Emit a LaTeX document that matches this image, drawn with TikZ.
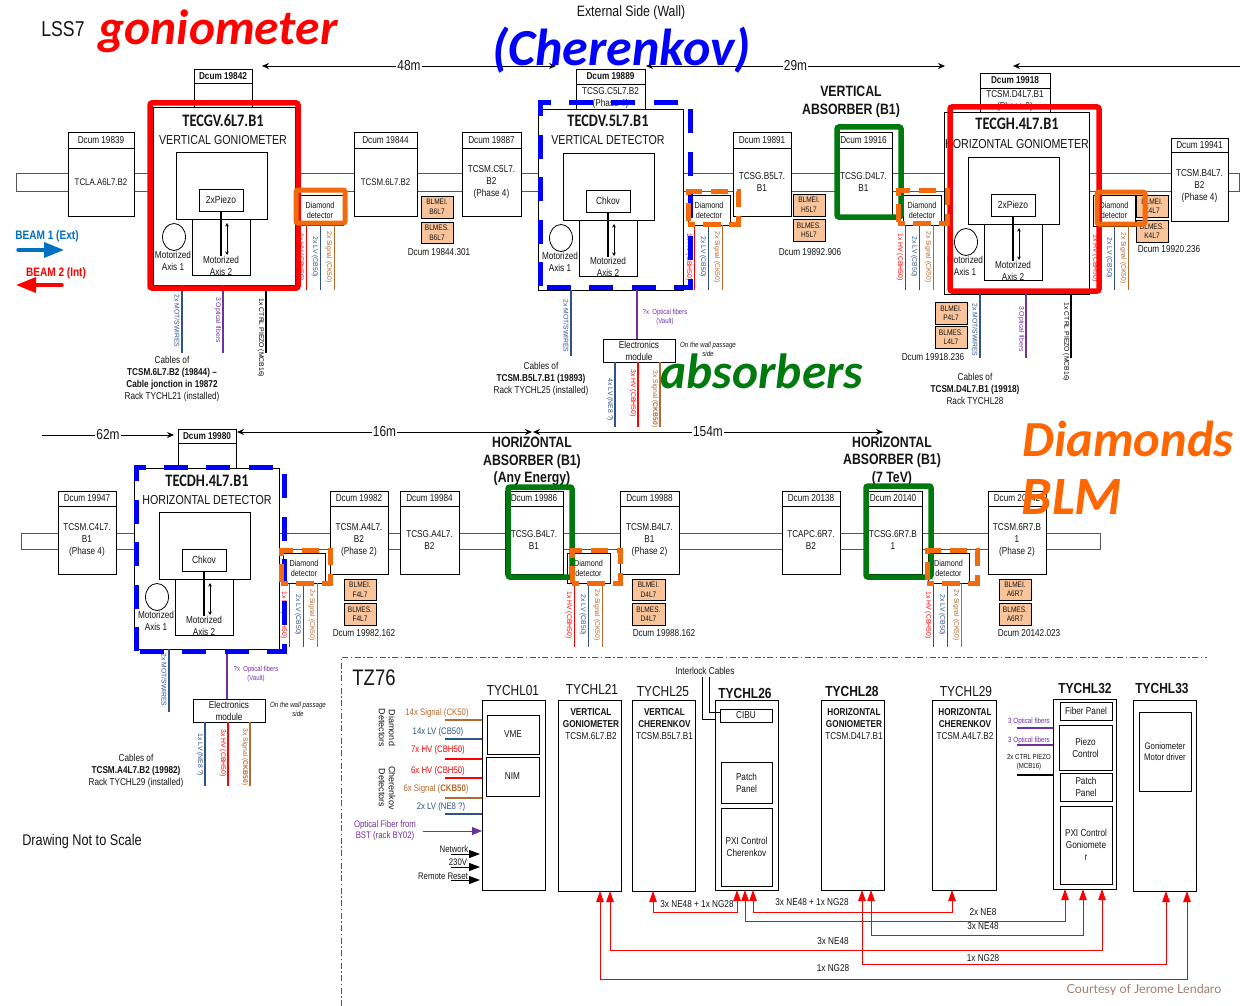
\documentclass[tikz,border=0pt]{standalone}
\usepackage{fontspec}
\usetikzlibrary{arrows.meta,shapes.geometric}
\setmainfont{Liberation Sans}[FakeStretch=0.82]
\newfontfamily\plainf{Liberation Sans}
\newfontfamily\dispf{Carlito}
\newfontfamily\ttlf{Carlito}[FakeStretch=0.82]
\newfontfamily\courtf{Lato}
\newcommand\fz[2]{\fontsize{#1}{#2}\selectfont}
\definecolor{txt}{HTML}{151515}
\definecolor{sigc}{HTML}{B5692C}
\definecolor{lvc}{HTML}{2F5387}
\definecolor{purp}{HTML}{7030A0}
\definecolor{orng}{HTML}{F26A0C}
\definecolor{orngt}{HTML}{FF6600}
\definecolor{grn}{HTML}{007A0E}
\definecolor{blmf}{HTML}{F9C49A}
\definecolor{beamb}{HTML}{0070C0}
\definecolor{framed}{HTML}{555555}
\definecolor{court}{HTML}{A08070}
\tikzset{
  boxn/.style={draw=black,fill=white,line width=0.9pt,inner sep=0pt,outer sep=0pt,align=center,text=txt,font=\fz{10}{12}},
  txtn/.style={inner sep=0pt,outer sep=0pt,align=center,text=txt,font=\fz{10}{12}},
  redframe/.style={draw=red,fill=none,line width=5.5pt,rounded corners=2pt},
  grnframe/.style={draw=grn,fill=none,line width=5.5pt,rounded corners=2pt},
  blueframe/.style={draw=blue,fill=none,line width=5pt,dash pattern=on 24pt off 18.4pt},
  orframe/.style={draw=orng,fill=none,line width=5pt,rounded corners=2pt},
  ordash/.style={draw=orng,fill=none,line width=5pt,dash pattern=on 17.5pt off 8.5pt,dash phase=11pt},
  hvline/.style={draw=red,line width=1pt},
  lvline/.style={draw=lvc,line width=1pt},
  sigline/.style={draw=sigc,line width=1pt},
  purline/.style={draw=purp,line width=1pt},
  blkline/.style={draw=black,line width=1pt},
  rotlab/.style={rotate=-90,inner sep=0pt,outer sep=0pt,font=\plainf\fz{6.8}{8}},
  dimline/.style={draw=black,line width=0.8pt,arrows={Stealth[length=7pt,width=6pt]-Stealth[length=7pt,width=6pt]}},
  redroute/.style={draw=red,line width=0.9pt,arrows={Triangle[length=11pt,width=7.5pt]-Triangle[length=11pt,width=7.5pt]}},
  powline/.style={draw=black,line width=0.9pt,arrows={Triangle[length=11pt,width=8pt]-}},
  beaml/.style={line width=3.5pt,line cap=round,-{Triangle[length=20pt,width=15pt]}},
  boldbig/.style={txtn,font=\bfseries\fz{15}{17.5}},
  disptext/.style={inner sep=0pt,outer sep=0pt,font=\dispf\bfseries\itshape\fz{49.5}{50}}
}
\newcounter{tnc}
% text node
\newcommand\tx[4]{\stepcounter{tnc}\node[txtn,#3] (t\arabic{tnc}) at (#1,#2) {#4};}
% rotated label
\newcommand\rl[4]{\stepcounter{tnc}\node[rotlab,text=#3] (t\arabic{tnc}) at (#1,#2) {#4};}
% corner box: name x1 y1 x2 y2 style text
\newcommand\bx[7]{%
  \pgfmathsetmacro\cxx{(#2+#4)/2}\pgfmathsetmacro\cyy{(#3+#5)/2}%
  \node[boxn,minimum width={#4pt-#2pt},minimum height={#5pt-#3pt},#6] (#1) at (\cxx,\cyy) {#7};}
% collimator: name x1 x2 ytop ymid ybot dcum body
\newcommand\coll[8]{%
  \bx{#1b}{#2}{#5}{#3}{#6}{}{#8}%
  \bx{#1d}{#2}{#4}{#3}{#5}{}{#7}}
% BLM box: name x1 y1 x2 y2 text
\newcommand\blm[6]{\bx{#1}{#2}{#3}{#4}{#5}{fill=blmf,font=\fz{8}{9.5}}{#6}}
% mechanism: prefix X Y chiptext
\newcommand\mech[4]{%
  \bx{#1in}{#2}{#3}{\the\numexpr#2+91\relax}{\the\numexpr#3+67\relax}{}{}%
  \bx{#1lo}{\the\numexpr#2+16\relax}{\the\numexpr#3+67\relax}{\the\numexpr#2+74\relax}{\the\numexpr#3+123\relax}{}{}%
  \bx{#1ch}{\the\numexpr#2+23\relax}{\the\numexpr#3+37\relax}{\the\numexpr#2+67\relax}{\the\numexpr#3+59\relax}{font=\fz{10.3}{12}}{#4}%
  \draw[line width=2pt] (#1ch.south) -- ++(0,45);
  \coordinate (#1a1) at (\the\numexpr#2+51\relax,\the\numexpr#3+71\relax);
  \coordinate (#1a2) at (\the\numexpr#2+51\relax,\the\numexpr#3+103\relax);
  \draw[line width=0.7pt,{Stealth[length=3.5pt,width=3.5pt]}-{Stealth[length=3.5pt,width=3.5pt]}] (#1a1) -- (#1a2);
  \stepcounter{tnc}\node[draw=black,fill=white,line width=0.8pt,ellipse,minimum width=23pt,minimum height=27pt,inner sep=0pt] (#1ci) at (\the\numexpr#2-2\relax,\the\numexpr#3+85\relax) {};
  \tx{\the\numexpr#2-3\relax}{\the\numexpr#3+109\relax}{}{Motorized\\Axis 1}
  \tx{\the\numexpr#2+45\relax}{\the\numexpr#3+114\relax}{}{Motorized\\Axis 2}
}
% diamond: name x1 y1 x2 y2 cablecentre y-end
\newcommand\ddet[7]{%
  \bx{#1}{#2}{#3}{#4}{#5}{font=\fz{8.8}{10}}{Diamond\\detector}%
  \pgfmathsetmacro\offc{#6-(#2+#4)/2}%
  \pgfmathsetmacro\cablen{#7-#5}%
  \draw[hvline]  ([xshift=\offc pt-14pt]#1.south) -- ++(0,\cablen);
  \draw[lvline]  ([xshift=\offc pt]#1.south) -- ++(0,\cablen);
  \draw[sigline] ([xshift=\offc pt+14pt]#1.south) -- ++(0,\cablen);
  \pgfmathsetmacro\ly{#5+32}\pgfmathsetmacro\xa{#6-19}\pgfmathsetmacro\xb{#6-5}\pgfmathsetmacro\xc{#6+9}%
  \rl{\xa}{\ly}{red}{1x HV (CBH50)}\rl{\xb}{\ly}{lvc}{2x LV (CB50)}\rl{\xc}{\ly}{sigc}{2x Signal (CK50)}%
}
\begin{document}
\begin{tikzpicture}[x=1pt,y=-1pt,>=Stealth]
\fill[white] (0,0) rectangle (1240,1006);
\useasboundingbox (0,0) rectangle (1240,1006);

% ---------- top texts
\tx{63}{29}{font=\fz{21.5}{24}}{LSS7}
\tx{631}{13}{font=\fz{15}{17}}{External Side (Wall)}
\tx{82}{841}{font=\fz{15.5}{17}}{Drawing Not to Scale}

% ---------- distance arrows
\coordinate (d48a) at (262,66); \coordinate (d48b) at (556,66);
\coordinate (d29a) at (646,66); \coordinate (d29b) at (945,66);
\coordinate (d00a) at (1013,66); \coordinate (d00b) at (1240,66);
\coordinate (d62a) at (42,435); \coordinate (d62b) at (174,435);
\coordinate (d16a) at (237,432); \coordinate (d16b) at (532,432);
\coordinate (d15a) at (533,432); \coordinate (d15b) at (883,432);
\draw[dimline] (d48a) -- node[midway,fill=white,inner sep=1pt,font=\fz{14.5}{16},text=txt] (l48) {48m} (d48b);
\draw[dimline] (d29a) -- node[midway,fill=white,inner sep=1pt,font=\fz{14.5}{16},text=txt] (l29) {29m} (d29b);
\draw[draw=black,line width=0.8pt,{Stealth[length=7pt,width=6pt]}-] (d00a) -- (d00b);
\draw[draw=black,line width=0.8pt,-{Stealth[length=7pt,width=6pt]}] (d62a) -- node[midway,fill=white,inner sep=1pt,font=\fz{14.5}{16},text=txt] (l62) {62m} (d62b);
\draw[dimline] (d16a) -- node[midway,fill=white,inner sep=1pt,font=\fz{14.5}{16},text=txt] (l16) {16m} (d16b);
\draw[dimline] (d15a) -- node[midway,fill=white,inner sep=1pt,font=\fz{14.5}{16},text=txt] (l154) {154m} (d15b);

% ---------- beam pipes
\coordinate (pa1) at (16,174); \coordinate (pb1) at (1239,191);
\coordinate (pa2) at (21,533); \coordinate (pb2) at (1100,549);
\draw[line width=1pt,draw=framed] (pa1) rectangle (pb1);
\draw[line width=1pt,draw=framed] (pa2) rectangle (pb2);

% ---------- beam arrows
\tx{47}{236}{text=beamb,font=\bfseries\fz{12.3}{14}}{BEAM 1 (Ext)}
\tx{56}{273}{text=red,font=\bfseries\fz{12.3}{14}}{BEAM 2 (Int)}
\coordinate (ba1) at (18,250); \coordinate (ba2) at (64,250);
\coordinate (bb1) at (62,285); \coordinate (bb2) at (16,285);
\draw[beaml,draw=beamb,fill=beamb] (ba1) -- (ba2);
\draw[beaml,draw=red,fill=red] (bb1) -- (bb2);

% ---------- row 1 collimators
\coll{c19839}{68}{134}{132}{148}{216}{Dcum 19839}{\fz{9.6}{12}TCLA.A6L7.B2}
\coll{c19842}{194}{252}{69}{83}{110}{\textbf{Dcum 19842}}{}
\coll{c19844}{354}{417}{132}{148}{216}{Dcum 19844}{\fz{9.6}{12}TCSM.6L7.B2}
\coll{c19887}{462}{521}{132}{148}{216}{Dcum 19887}{TCSM.C5L7.\\B2\\(Phase 4)}
\coll{c19889}{576}{645}{69}{84}{112}{\textbf{Dcum 19889}}{TCSG.C5L7.B2\\(Phase 4)}
\coll{c19891}{733}{791}{132}{148}{216}{Dcum 19891}{TCSG.B5L7.\\B1}
\coll{c19916}{835}{892}{132}{148}{216}{Dcum 19916}{TCSG.D4L7.\\B1}
\coll{c19918}{980}{1050}{73}{88}{114}{\textbf{Dcum 19918}}{TCSM.D4L7.B1\\(Phase 2)}
\coll{c19941}{1171}{1228}{138}{152}{221}{Dcum 19941}{TCSM.B4L7.\\B2\\(Phase 4)}

% ---------- row 2 collimators
\coll{c19947}{58}{116}{491}{506}{574}{Dcum 19947}{TCSM.C4L7.\\B1\\(Phase 4)}
\coll{c19980}{178}{236}{429}{443}{470}{\textbf{Dcum 19980}}{}
\coll{c19982}{330}{388}{491}{506}{574}{Dcum 19982}{TCSM.A4L7.\\B2\\(Phase 2)}
\coll{c19984}{400}{459}{491}{506}{574}{Dcum 19984}{TCSG.A4L7.\\B2}
\coll{c19986}{505}{563}{491}{506}{574}{Dcum 19986}{TCSG.B4L7.\\B1}
\coll{c19988}{620}{679}{491}{506}{574}{Dcum 19988}{TCSM.B4L7.\\B1\\(Phase 2)}
\coll{c20138}{782}{840}{491}{506}{574}{Dcum 20138}{TCAPC.6R7.\\B2}
\coll{c20140}{864}{922}{491}{506}{574}{Dcum 20140}{TCSG.6R7.B\\1}
\coll{c20142}{988}{1046}{491}{506}{574}{Dcum 20142}{TCSM.6R7.B\\1\\(Phase 2)}

% ---------- BLM boxes
\blm{bB6a}{421}{196}{453}{218}{BLMEI.\\B6L7}
\blm{bB6b}{421}{222}{453}{243}{BLMES.\\B6L7}
\tx{439}{252}{}{Dcum 19844.301}
\blm{bH5a}{793}{194}{825}{216}{BLMEI.\\H5L7}
\blm{bH5b}{793}{219}{825}{241}{BLMES.\\H5L7}
\tx{810}{252}{}{Dcum 19892.906}
\blm{bP4a}{935}{302}{967}{324}{BLMEI.\\P4L7}
\blm{bL4b}{935}{326}{967}{348}{BLMES.\\L4L7}
\tx{933}{357}{}{Dcum 19918.236}
\blm{bK4a}{1136}{195}{1168}{217}{BLMEI.\\K4L7}
\blm{bK4b}{1136}{220}{1168}{242}{BLMES.\\K4L7}
\tx{1169}{249}{}{Dcum 19920.236}
\blm{bF4a}{344}{579}{376}{600}{BLMEI.\\F4L7}
\blm{bF4b}{344}{603}{376}{625}{BLMES.\\F4L7}
\tx{364}{633}{}{Dcum 19982.162}
\blm{bD4a}{632}{579}{665}{600}{BLMEI.\\D4L7}
\blm{bD4b}{632}{603}{665}{625}{BLMES.\\D4L7}
\tx{664}{633}{}{Dcum 19988.162}
\blm{bA6a}{999}{579}{1031}{600}{BLMEI.\\A6R7}
\blm{bA6b}{999}{603}{1031}{625}{BLMES.\\A6R7}
\tx{1029}{633}{}{Dcum 20142.023}

% ---------- big tanks
\bx{tGV}{153}{107}{295}{285}{}{}
\bx{tDV}{538}{109}{683}{290}{}{}
\bx{tGH}{944}{112}{1089}{294}{}{}
\bx{tDH}{134}{468}{279}{649}{}{}

\tx{223}{121}{font=\ttlf\bfseries\fz{17.5}{20}}{TECGV.6L7.B1}
\tx{223}{140}{font=\fz{13}{15}}{VERTICAL GONIOMETER}
\tx{608}{121}{font=\ttlf\bfseries\fz{17.5}{20}}{TECDV.5L7.B1}
\tx{608}{140}{font=\fz{13}{15}}{VERTICAL DETECTOR}
\tx{1017}{124}{font=\ttlf\bfseries\fz{17.5}{20}}{TECGH.4L7.B1}
\tx{1017}{144}{font=\fz{13}{15}}{HORIZONTAL GONIOMETER}
\tx{207}{481}{font=\ttlf\bfseries\fz{17.5}{20}}{TECDH.4L7.B1}
\tx{207}{500}{font=\fz{13}{15}}{HORIZONTAL DETECTOR}

\mech{mGV}{176}{152}{2xPiezo}
\mech{mDV}{563}{153}{Chkov}
\mech{mGH}{968}{157}{2xPiezo}
\mech{mDH}{159}{512}{Chkov}

% ---------- diamond detectors and their cables
\ddet{dd1}{297}{195}{343}{225}{320}{290}
\ddet{dd2}{688}{195}{730}{225}{708}{290}
\ddet{dd3}{903}{195}{941}{225}{919}{290}
\ddet{dd4}{1093}{195}{1135}{226}{1114}{290}
\ddet{dd5}{283}{553}{325}{583}{303}{647}
\ddet{dd6}{567}{553}{610}{583}{588}{647}
\ddet{dd7}{928}{553}{969}{583}{947}{647}

% ---------- tank cables, row 1
\draw[lvline,line width=1.2pt]  ([xshift=29pt]tGV.south west) -- ++(0,68);
\draw[purline,line width=1.2pt] ([xshift=70pt]tGV.south west) -- ++(0,68);
\draw[blkline,line width=1.2pt] ([xshift=113pt]tGV.south west) -- ++(0,68);
\rl{177}{321}{lvc}{2x MOT/SWIRES}
\rl{218}{320}{purp}{3 Optical fibers}
\rl{261}{338}{black}{1x CTRL PIEZO (MCB16)}
\tx{172}{378.5}{}{Cables of\\\textbf{TCSM.6L7.B2 (19844) --}\\\textbf{Cable jonction in 19872}\\Rack TYCHL21 (installed)}

\draw[lvline,line width=1.2pt]  ([xshift=33pt]tDV.south west) -- ++(0,66);
\rl{566}{326}{lvc}{2x MOT/SWIRES}
\bx{emV}{603}{339}{675}{362}{}{Electronics\\module}
\draw[purline,line width=1.2pt] ([xshift=99pt]tDV.south west) -- ([xshift=-2pt]emV.north);
\tx{665}{317.5}{text=purp,font=\fz{7.3}{9}}{?x\ \ Optical fibers\\(Vault)}
\tx{708}{349.5}{font=\itshape\fz{7.5}{9}}{On the wall passage\\side}
\draw[lvline,line width=1.2pt]  ([xshift=-24pt]emV.south) -- ++(0,65);
\draw[hvline,line width=1.2pt]  ([xshift=-1pt]emV.south) -- ++(0,65);
\draw[sigline,line width=1.2pt] ([xshift=21pt]emV.south) -- ++(0,65);
\rl{610}{400}{lvc}{4x LV (NE8 ?)}
\rl{633}{393}{red}{3x HV (CBH50)}
\rl{655}{399}{sigc}{3x Signal (\textbf{CKB50})}
\tx{541}{379}{}{Cables of\\\textbf{TCSM.B5L7.B1 (19893)}\\Rack TYCHL25 (installed)}

\draw[lvline,line width=1.2pt]  ([xshift=36pt]tGH.south west) -- ++(0,64);
\draw[purline,line width=1.2pt] ([xshift=82pt]tGH.south west) -- ++(0,64);
\draw[blkline,line width=1.2pt] ([xshift=127pt]tGH.south west) -- ++(0,64);
\rl{975}{330}{lvc}{2x MOT/SWIRES}
\rl{1021}{329}{purp}{3 Optical fibers}
\rl{1066}{342}{black}{1x CTRL PIEZO (MCB16)}
\tx{975}{389}{}{Cables of\\\textbf{TCSM.D4L7.B1 (19918)}\\Rack TYCHL28}

% ---------- tank cables, row 2
\draw[lvline,line width=1.2pt]  ([xshift=35pt]tDH.south west) -- ++(0,63);
\rl{164}{680}{lvc}{2x MOT/SWIRES}
\bx{emH}{193}{699}{265}{722}{}{Electronics\\module}
\draw[purline,line width=1.2pt] ([xshift=93pt]tDH.south west) -- ([xshift=-2pt]emH.north);
\tx{256}{674.5}{text=purp,font=\fz{7.3}{9}}{?x\ \ Optical fibers\\(Vault)}
\tx{298}{709.5}{font=\itshape\fz{7.5}{9}}{On the wall passage\\side}
\draw[lvline,line width=1.2pt]  ([xshift=-24pt]emH.south) -- ++(0,64);
\draw[hvline,line width=1.2pt]  ([xshift=-1pt]emH.south) -- ++(0,64);
\draw[sigline,line width=1.2pt] ([xshift=21pt]emH.south) -- ++(0,64);
\rl{200}{755}{lvc}{1x LV (NE8 ?)}
\rl{223}{753}{red}{3x HV (CBH50)}
\rl{245}{757}{sigc}{3x Signal (\textbf{CKB50})}
\tx{136}{771}{}{Cables of\\\textbf{TCSM.A4L7.B2 (19982)}\\Rack TYCHL29 (installed)}

% ---------- absorber labels
\tx{851}{102}{boldbig}{VERTICAL\\ABSORBER (B1)}
\tx{532}{461.5}{boldbig}{HORIZONTAL\\ABSORBER (B1)\\(Any Energy)}
\tx{892}{461}{boldbig}{HORIZONTAL\\ABSORBER (B1)\\(7 TeV)}

% ---------- highlight frames
\bx{fGV}{150}{103}{298}{288}{redframe}{}
\bx{fGH}{950}{107}{1099}{291}{redframe}{}
\bx{fDV}{540}{103}{690}{287}{blueframe,dash phase=35.4pt}{}
\bx{fDH}{136}{467}{284}{651}{blueframe,dash phase=38.4pt}{}
\bx{fA1}{837}{127}{901}{217}{grnframe}{}
\bx{fA2}{508}{487}{572}{577}{grnframe}{}
\bx{fA3}{866}{486}{931}{577}{grnframe}{}
\bx{fO1}{296}{190}{345}{223}{orframe}{}
\bx{fO4}{1097}{192}{1145}{224}{orframe}{}
\bx{fO2}{688}{191}{738}{224}{ordash}{}
\bx{fO3}{898}{190}{947}{223}{ordash}{}
\bx{fO5}{281}{550}{330}{583}{ordash}{}
\bx{fO6}{572}{550}{620}{583}{ordash}{}
\bx{fO7}{927}{550}{977}{583}{ordash}{}

% ---------- display texts
\node[disptext,text=red] (hgon) at (218,31) {goniometer};
\node[disptext,text=blue,font=\dispf\bfseries\itshape\fz{52}{54}] (hche) at (621.5,50) {(Cherenkov)};
\node[disptext,text=grn] (habs) at (762,371) {absorbers};
\node[disptext,text=orngt,font=\dispf\bfseries\itshape\fz{50.5}{52}] (hdia) at (1128,439) {Diamonds};
\node[disptext,text=orngt,font=\dispf\bfseries\itshape\fz{54}{56}] (hblm) at (1072,497) {BLM};

% ---------- TZ76 frame
\coordinate (fr1) at (341,1006); \coordinate (fr2) at (341,657); \coordinate (fr3) at (1207,657);
\draw[draw=framed,line width=1pt,dash pattern=on 6pt off 2.5pt on 1.5pt off 2.5pt] (fr1) -- (fr2) -- (fr3);
\tx{374}{678}{font=\fz{22.5}{25}}{TZ76}

% ---------- racks
\tikzset{rlabel/.style={font=\fz{14.5}{17}},rlabelb/.style={font=\bfseries\fz{14.6}{17}}}
\bx{r01}{482}{700}{545}{890}{}{}
\bx{r21}{558}{700}{621}{891}{}{}
\bx{r25}{632}{700}{695}{891}{}{}
\bx{r26}{715}{700}{778}{890}{}{}
\bx{r28}{821}{700}{884}{890}{}{}
\bx{r29}{932}{700}{996}{890}{}{}
\bx{r32}{1053}{699}{1116}{889}{}{}
\bx{r33}{1133}{700}{1196}{891}{}{}
\tx{513}{691}{rlabel}{TYCHL01}
\tx{592}{690}{rlabel}{TYCHL21}
\tx{663}{692}{rlabel}{TYCHL25}
\tx{745}{693}{rlabelb}{TYCHL26}
\tx{852}{691}{rlabelb}{TYCHL28}
\tx{966}{692}{rlabel}{TYCHL29}
\tx{1085}{688}{rlabelb}{TYCHL32}
\tx{1162}{688}{rlabelb}{TYCHL33}

\bx{vme}{487}{715}{539}{754}{}{VME}
\bx{nim}{486}{757}{539}{796}{}{NIM}
\tx{591}{724}{}{\textbf{VERTICAL}\\\textbf{GONIOMETER}\\TCSM.6L7.B2}
\tx{664.5}{724}{}{\textbf{VERTICAL}\\\textbf{CHERENKOV}\\TCSM.B5L7.B1}
\tx{854}{724}{}{\textbf{HORIZONTAL}\\\textbf{GONIOMETER}\\TCSM.D4L7.B1}
\tx{965}{724}{}{\textbf{HORIZONTAL}\\\textbf{CHERENKOV}\\TCSM.A4L7.B2}
\bx{cibu}{720}{709}{772}{722}{}{CIBU}
\bx{pp26}{721}{762}{772}{803}{}{Patch\\Panel}
\bx{px26}{721}{808}{772}{886}{}{PXI Control\\Cherenkov}
\bx{fp32}{1060}{702}{1112}{720}{}{Fiber Panel}
\bx{pz32}{1059}{725}{1112}{770}{}{Piezo\\Control}
\bx{pp32}{1060}{773}{1112}{801}{}{Patch\\Panel}
\bx{px32}{1060}{806}{1112}{884}{}{PXI Control\\Goniomete\\r}
\bx{gm33}{1139}{712}{1191}{791}{font=\fz{9.5}{11.5}}{Goniometer\\Motor driver}

% interlock
\tx{705}{671}{}{Interlock Cables}
\coordinate (il1) at (702,677); \coordinate (il2) at (709,677);
\draw[line width=0.9pt] (il1) |- ([yshift=-19pt]r26.north west);
\draw[line width=0.9pt] (il2) |- ([yshift=3.5pt]cibu.west);

% left inputs of TYCHL01
\tx{387}{728}{rotate=-90,font=\plainf\fz{9}{10}}{Diamond\\Detectors}
\tx{387}{788}{rotate=-90,font=\plainf\fz{9}{10}}{Cherenkov\\Detectors}
\tikzset{fsz/.style={font=\fz{9.5}{11}}}
\tx{437}{713}{fsz,text=sigc}{14x Signal (CK50)}
\tx{438}{732}{fsz,text=lvc}{14x LV (CB50)}
\tx{438}{750}{fsz,text=red}{7x HV (CBH50)}
\tx{438}{771}{fsz,text=red}{6x HV (CBH50)}
\tx{436}{789}{fsz,text=sigc}{6x Signal (\textbf{CKB50})}
\tx{441}{807}{fsz,text=lvc}{2x LV (NE8 ?)}
\draw[sigline,line width=1.2pt] ([yshift=-20pt]r01.north west) -- ++(-37,0);
\draw[lvline,line width=1.2pt]  ([yshift=-39pt]r01.north west) -- ++(-37,0);
\draw[hvline,line width=1.2pt]  ([yshift=-59pt]r01.north west) -- ++(-37,0);
\draw[hvline,line width=1.2pt]  ([yshift=-78pt]r01.north west) -- ++(-37,0);
\draw[sigline,line width=1.2pt] ([yshift=-98pt]r01.north west) -- ++(-37,0);
\draw[lvline,line width=1.2pt]  ([yshift=-114pt]r01.north west) -- ++(-37,0);
\tx{385}{830.5}{fsz,text=purp}{Optical Fiber from\\BST (rack BY02)}
\draw[draw=purp,line width=0.9pt,arrows={Triangle[length=10pt,width=8pt]-}] ([yshift=-131pt]r01.north west) -- ++(-59,0);
\tx{454}{849}{fsz}{Network}
\tx{458}{862}{fsz}{230V}
\tx{443}{876}{fsz}{Remote Reset}
\draw[powline] ([yshift=-154pt,xshift=-2pt]r01.north west) -- ++(-29,0);
\draw[powline] ([yshift=-167pt,xshift=-2pt]r01.north west) -- ++(-29,0);
\draw[powline] ([yshift=-180pt,xshift=-2pt]r01.north west) -- ++(-29,0);

% inputs of TYCHL32
\tikzset{smf/.style={text=purp,font=\fz{7.6}{9}}}
\tx{1029}{722}{smf}{3 Optical fibers}
\tx{1029}{741}{smf}{3 Optical fibers}
\tx{1029}{762.5}{font=\fz{7.4}{9}}{2x CTRL PIEZO\\(MCB16)}
\draw[purline,line width=1.2pt] ([yshift=-29pt]r32.north west) -- ++(-36,0);
\draw[purline,line width=1.2pt] ([yshift=-46pt]r32.north west) -- ++(-36,0);
\draw[blkline,line width=1.2pt] ([yshift=-76pt]r32.north west) -- ++(-36,0);

% red routes
\draw[redroute] ([xshift=42pt]r21.south west) -- ++(0,88) -| ([xshift=54pt]r33.south west);
\draw[redroute] ([xshift=52pt]r21.south west) -- ++(0,59) -| ([xshift=49pt]r32.south west);
\draw[redroute] ([xshift=21pt]r25.south west) -- ++(0,21) -| ([xshift=22pt]r26.south west);
\draw[redroute] ([xshift=38pt]r26.south west) -- ++(0,22) -| ([xshift=20pt]r29.south west);
\draw[redroute] ([xshift=30pt]r26.south west) -- ++(0,31) -| ([xshift=12pt]r32.south west);
\draw[redroute] ([xshift=50pt]r28.south west) -- ++(0,45) -| ([xshift=30pt]r32.south west);
\draw[redroute] ([xshift=41pt]r28.south west) -- ++(0,74) -| ([xshift=33pt]r33.south west);
\tikzset{rtl/.style={font=\fz{10}{12}}}
\tx{697}{904}{rtl}{3x NE48 + 1x NG28}
\tx{812}{902}{rtl}{3x NE48 + 1x NG28}
\tx{983}{912}{rtl}{2x NE8}
\tx{983}{926}{rtl}{3x NE48}
\tx{833}{941}{rtl}{3x NE48}
\tx{983}{958}{rtl}{1x NG28}
\tx{833}{968}{rtl}{1x NG28}
\tx{1144}{990}{text=court,font=\courtf\fz{12.5}{14}}{Courtesy of Jerome Lendaro}
\end{tikzpicture}
\end{document}
